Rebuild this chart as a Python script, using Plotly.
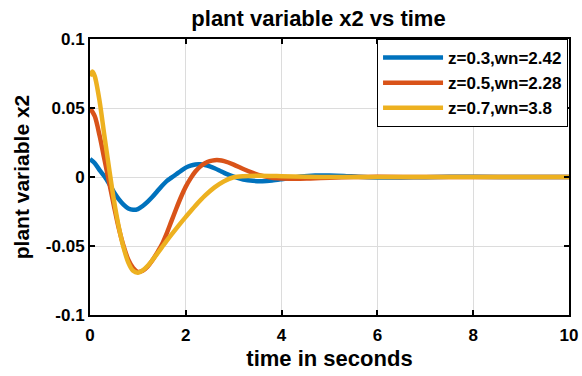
import plotly.graph_objects as go

# Time samples (s) and plant variable x2 for each damping / natural-frequency pair
t_a = [0, 0.1, 0.2, 0.3, 0.4, 0.5, 0.6, 0.7, 0.8, 0.9, 1.0, 1.1, 1.2, 1.3, 1.4,
       1.5, 1.6, 1.7, 1.8, 1.9, 2.0, 2.1, 2.2, 2.3, 2.4, 2.5, 2.6, 2.7, 2.8, 2.9,
       3.0, 3.2, 3.4, 3.6, 3.8, 4.0, 4.2, 4.4, 4.7, 5.0, 5.3, 5.6, 6.0, 6.5, 7.0,
       7.5, 8.0, 9.0, 10.0]
x2_a = [0.013, 0.010, 0.005, 0.0005, -0.005, -0.011, -0.016, -0.020, -0.0228,
        -0.0237, -0.0232, -0.021, -0.018, -0.0145, -0.0105, -0.0065, -0.003,
        -0.0005, 0.002, 0.0045, 0.0068, 0.0083, 0.0091, 0.0092, 0.0087, 0.0077,
        0.0063, 0.0047, 0.003, 0.0015, 0.0002, -0.0018, -0.0028, -0.003, -0.0025,
        -0.0016, -0.0006, 0.0003, 0.001, 0.0011, 0.0008, 0.0002, -0.0003,
        -0.0004, -0.0001, 0.0001, 0.0001, 0.0, 0.0]

t_b = [0, 0.1, 0.2, 0.3, 0.4, 0.5, 0.6, 0.7, 0.8, 0.9, 1.0, 1.1, 1.2, 1.3, 1.4,
       1.5, 1.6, 1.7, 1.8, 1.9, 2.0, 2.1, 2.2, 2.3, 2.4, 2.5, 2.6, 2.7, 2.8, 3.0,
       3.2, 3.4, 3.6, 3.8, 4.0, 4.3, 4.6, 5.0, 5.5, 6.0, 7.0, 8.0, 10.0]
x2_b = [0.050, 0.044, 0.030, 0.013, -0.004, -0.021, -0.037, -0.050, -0.060,
        -0.066, -0.0688, -0.068, -0.065, -0.0605, -0.055, -0.049, -0.041,
        -0.032, -0.023, -0.0145, -0.007, -0.001, 0.004, 0.0075, 0.010, 0.0115,
        0.0122, 0.0122, 0.0115, 0.009, 0.0058, 0.003, 0.0008, -0.0005, -0.001,
        -0.0013, -0.001, -0.0005, 0.0, 0.0001, 0.0, 0.0, 0.0]

t_c = [0, 0.05, 0.1, 0.2, 0.3, 0.4, 0.5, 0.6, 0.7, 0.8, 0.9, 1.0, 1.1, 1.2, 1.3,
       1.4, 1.5, 1.6, 1.7, 1.8, 1.9, 2.0, 2.2, 2.4, 2.6, 2.8, 3.0, 3.2, 3.5, 4.0,
       4.5, 5.0, 6.0, 8.0, 10.0]
x2_c = [0.073, 0.0765, 0.073, 0.055, 0.030, 0.006, -0.017, -0.036, -0.051,
        -0.062, -0.068, -0.0693, -0.0677, -0.0645, -0.0603, -0.0557, -0.051,
        -0.0463, -0.0418, -0.0374, -0.0331, -0.0289, -0.0208, -0.0135, -0.0075,
        -0.003, -0.0002, 0.0006, 0.0009, 0.0006, 0.0002, 0.0, 0.0, 0.0, 0.0]

labels = ["z=0.3,wn=2.42", "z=0.5,wn=2.28", "z=0.7,wn=3.8"]
colors = ["#0072BD", "#D95319", "#EDB120"]

x_ticks = [0, 2, 4, 6, 8, 10]
y_ticks = [-0.1, -0.05, 0, 0.05, 0.1]
y_ticktext = ["-0.1", "-0.05", "0", "0.05", "0.1"]

FONT = "Arial, Liberation Sans, Helvetica, sans-serif"

fig = go.Figure()
for t, v, name, col in zip([t_a, t_b, t_c], [x2_a, x2_b, x2_c], labels, colors):
    fig.add_trace(go.Scatter(
        x=t, y=v, mode="lines", name=name,
        line=dict(color=col, width=4.5, shape="spline", smoothing=0.8),
    ))

axis_common = dict(
    showline=True, linecolor="black", linewidth=2, mirror="ticks",
    ticks="inside", ticklen=5, tickwidth=1.5, tickcolor="black",
    showgrid=True, gridcolor="#dcdcdc", gridwidth=1, zeroline=False,
    automargin=False,
    tickfont=dict(family=FONT, size=17, color="black", weight="bold"),
)

fig.update_xaxes(
    range=[0, 10], tickvals=x_ticks, ticklabelstandoff=4,
    title=dict(text="time in seconds", standoff=6,
               font=dict(family=FONT, size=22, color="black", weight="bold")),
    **axis_common,
)
fig.update_yaxes(
    range=[-0.1, 0.1], tickvals=y_ticks, ticktext=y_ticktext,
    title=dict(text="plant variable x2", standoff=10,
               font=dict(family=FONT, size=21, color="black", weight="bold")),
    **axis_common,
)

fig.update_layout(
    width=582, height=376,
    margin=dict(l=90, r=13, t=39, b=61),
    paper_bgcolor="white", plot_bgcolor="white",
    title=dict(text="plant variable x2 vs time", x=318.5 / 582, xanchor="center",
               y=1 - 18.5 / 376, yanchor="middle",
               font=dict(family=FONT, size=22, color="black", weight="bold")),
    legend=dict(
        x=0.998, xanchor="right", y=1.0, yanchor="top",
        bgcolor="white", bordercolor="black", borderwidth=1,
        font=dict(family=FONT, size=17, color="black", weight="bold"),
        itemwidth=60, tracegroupgap=0,
    ),
    showlegend=True,
)

fig.write_html("out.html")
